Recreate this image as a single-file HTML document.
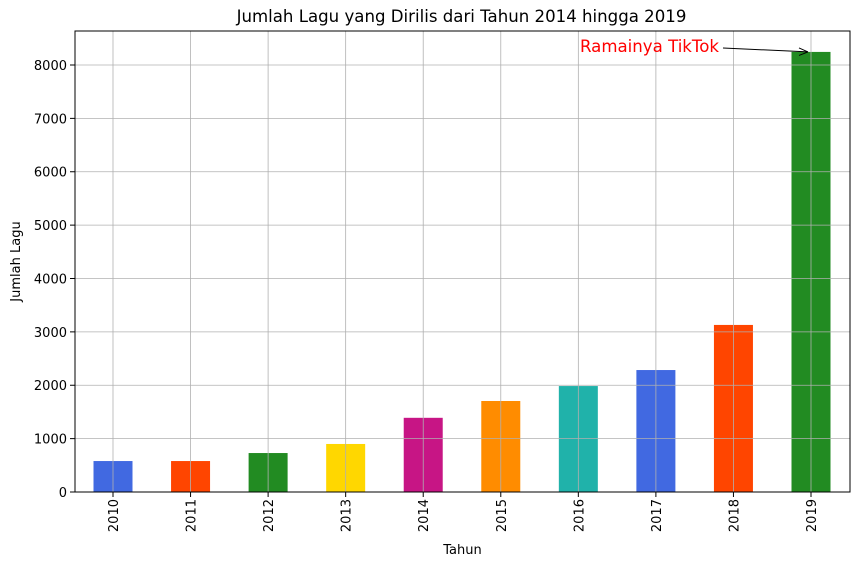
<!DOCTYPE html>
<html><head><meta charset="utf-8"><style>
body{margin:0;background:#fff;}
svg text{font-family:"DejaVu Sans","Liberation Sans",sans-serif;}
</style></head><body>
<svg id="chart" width="859" height="567">
<g id="grid"></g><g id="bars"></g><g id="axes"></g>
</svg>
<script>
const years=["2010","2011","2012","2013","2014","2015","2016","2017","2018","2019"];
const counts=[580,580,730,900,1390,1705,1985,2285,3130,8245];
const colors=["#4169e1","#ff4500","#228b22","#ffd700","#c71585","#ff8c00","#20b2aa","#4169e1","#ff4500","#228b22"];
const yTicks=[0,1000,2000,3000,4000,5000,6000,7000,8000];
const L=75,R=850,T=31,B=492,yMax=8637;
const NS="http://www.w3.org/2000/svg";
const y=v=>B-(v/yMax)*(B-T);
const step=(811-113)/9;
const x=i=>113+i*step;
function mk(tag,at,parent,txt){const e=document.createElementNS(NS,tag);for(const k in at)e.setAttribute(k,at[k]);if(txt!=null)e.textContent=txt;document.querySelector(parent).appendChild(e);return e;}
yTicks.forEach(t=>{
 const g=mk('line',{x1:L,x2:R,y1:y(t),y2:y(t),stroke:'#b0b0b0','stroke-width':0.8},'#grid');
 
 
 const tk=mk('line',{x1:L-5,x2:L,y1:y(t),y2:y(t),stroke:'#000'},'#axes');
 
 
 const lb=mk('text',{x:L-8,y:y(t)+5,'text-anchor':'end','font-size':13},'#axes',t);
 
 
});
years.forEach((yr,i)=>{
 const g=mk('line',{x1:x(i),x2:x(i),y1:T,y2:B,stroke:'#b0b0b0','stroke-width':0.8},'#grid');
 
 
 const b=mk('rect',{x:x(i)-19.5,y:y(counts[i]),width:39,height:B-y(counts[i]),fill:colors[i]},'#bars');
 
 
 const tk=mk('line',{x1:x(i),x2:x(i),y1:B,y2:B+5,stroke:'#000'},'#axes');
 
 
 const lb=mk('text',{x:x(i)+5,y:B+7,'text-anchor':'end','font-size':13,transform:`rotate(-90 ${x(i)+5} ${B+7})`},'#axes',yr);
 
 
});
document.getElementById('chart').appendChild(document.getElementById('grid'));
document.getElementById('chart').appendChild(document.getElementById('axes'));
const fr=mk('rect',{x:L,y:T,width:R-L,height:B-T,fill:'none',stroke:'#000','stroke-width':1},'#axes');


const ti=mk('text',{x:(L+R)/2-1,y:22,'text-anchor':'middle','font-size':16.6},'#axes','Jumlah Lagu yang Dirilis dari Tahun 2014 hingga 2019');


const xt=mk('text',{x:(L+R)/2,y:554,'text-anchor':'middle','font-size':13},'#axes','Tahun');


const yt=mk('text',{x:20,y:(T+B)/2,'text-anchor':'middle','font-size':13,transform:`rotate(-90 20 ${(T+B)/2})`},'#axes','Jumlah Lagu');


const an=mk('text',{x:719,y:52,'text-anchor':'end','font-size':16.6,fill:'#ff0000'},'#axes','Ramainya TikTok');


const ay=y(counts[9]);
const al=mk('line',{x1:723,y1:48,x2:x(9)-3,y2:ay,stroke:'#000','stroke-width':1},'#axes');


const ah=mk('path',{d:`M${x(9)-3} ${ay} l-9 -4 M${x(9)-3} ${ay} l-9 3.5`,stroke:'#000',fill:'none'},'#axes');


</script>
</body></html>
